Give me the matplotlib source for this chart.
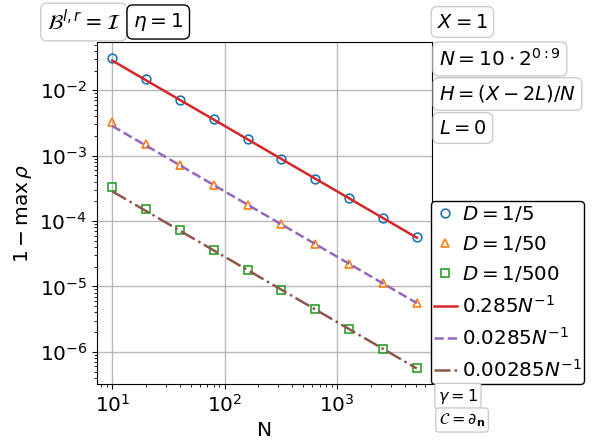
import numpy as np
import matplotlib
matplotlib.use("Agg")
import matplotlib.pyplot as plt

# ---- data ----
N = [10, 20, 40, 80, 160, 320, 640, 1280, 2560, 5120]
rho_D5 = [0.0317, 0.0148, 0.00722, 0.00358, 0.00178, 0.000891, 0.000445, 0.000223, 0.000111, 5.62e-5]
rho_D50 = [0.00322, 0.00150, 0.000725, 0.000358, 0.000178, 8.9e-5, 4.45e-5, 2.23e-5, 1.11e-5, 5.65e-6]
rho_D500 = [0.000330, 0.000153, 7.3e-5, 3.6e-5, 1.79e-5, 8.9e-6, 4.45e-6, 2.23e-6, 1.11e-6, 5.75e-7]
series_labels = [r"$D=1/5$", r"$D=1/50$", r"$D=1/500$"]
fit_coefs = [0.285, 0.0285, 0.00285]
fit_labels = [r"$0.285N^{-1}$", r"$0.0285N^{-1}$", r"$0.00285N^{-1}$"]

W, H = 598, 446
fig = plt.figure(figsize=(W / 100, H / 100), dpi=100)
ax = fig.add_axes([97 / W, 1 - 384 / H, (432 - 97) / W, (384 - 42) / H])

FS = 14.5
Narr = np.array(N, dtype=float)
markers = ["o", "^", "s"]
mcolors = ["#1f77b4", "#ff7f0e", "#2ca02c"]
for vals, m, c, lab in zip([rho_D5, rho_D50, rho_D500], markers, mcolors, series_labels):
    ax.plot(N, vals, linestyle="none", marker=m, markersize=6.3, markerfacecolor="none",
            markeredgecolor=c, markeredgewidth=1.2, label=lab)

lcolors = ["#d62728", "#9467bd", "#8c564b"]
lstyles = ["-", "--", "-."]
for coef, c, ls, lab in zip(fit_coefs, lcolors, lstyles, fit_labels):
    ax.plot(N, coef / Narr, color=c, linestyle=ls, linewidth=1.8, label=lab)

ax.set_xscale("log")
ax.set_yscale("log")
ax.grid(True, which="major", color="#b8b8b8", linewidth=1.0)
ax.set_axisbelow(True)
ax.tick_params(labelsize=FS)
ax.set_xlabel("N", fontsize=FS)
ax.set_ylabel(r"$1-\max\,\rho$", fontsize=FS)

leg = ax.legend(loc="lower left", bbox_to_anchor=(0.997, 0.0), borderaxespad=0.0,
                fontsize=14.3, handlelength=1.15, handletextpad=0.25, borderpad=0.15,
                labelspacing=0.52, fancybox=True, framealpha=1.0)
leg.get_frame().set_edgecolor("black")


def box(xl, yc, text, fs, ec, pad=0.3):
    fig.text(xl / W, 1 - yc / H, text, fontsize=fs, ha="left", va="center",
             bbox=dict(boxstyle="round,pad=%g" % pad, facecolor="white", edgecolor=ec, linewidth=1.0))


gray = "#cccccc"
box(47, 22, r"$\mathcal{B}^{l,r}=\mathcal{I}$", 15, gray)
box(133, 22, r"$\eta=1$", 14.5, "black")
box(437, 22, r"$X=1$", 14, gray)
box(439, 59, r"$N=10\cdot2^{0:9}$", 14.5, gray)
box(439, 94, r"$H=(X-2L)/N$", 14, gray)
box(439, 128, r"$L=0$", 14, gray)
box(438, 396, r"$\gamma=1$", 11.5, gray, 0.2)
box(439, 420, r"$\mathcal{C}=\partial_{\mathbf{n}}$", 11.5, gray, 0.2)

fig.savefig("out.png", dpi=100)
